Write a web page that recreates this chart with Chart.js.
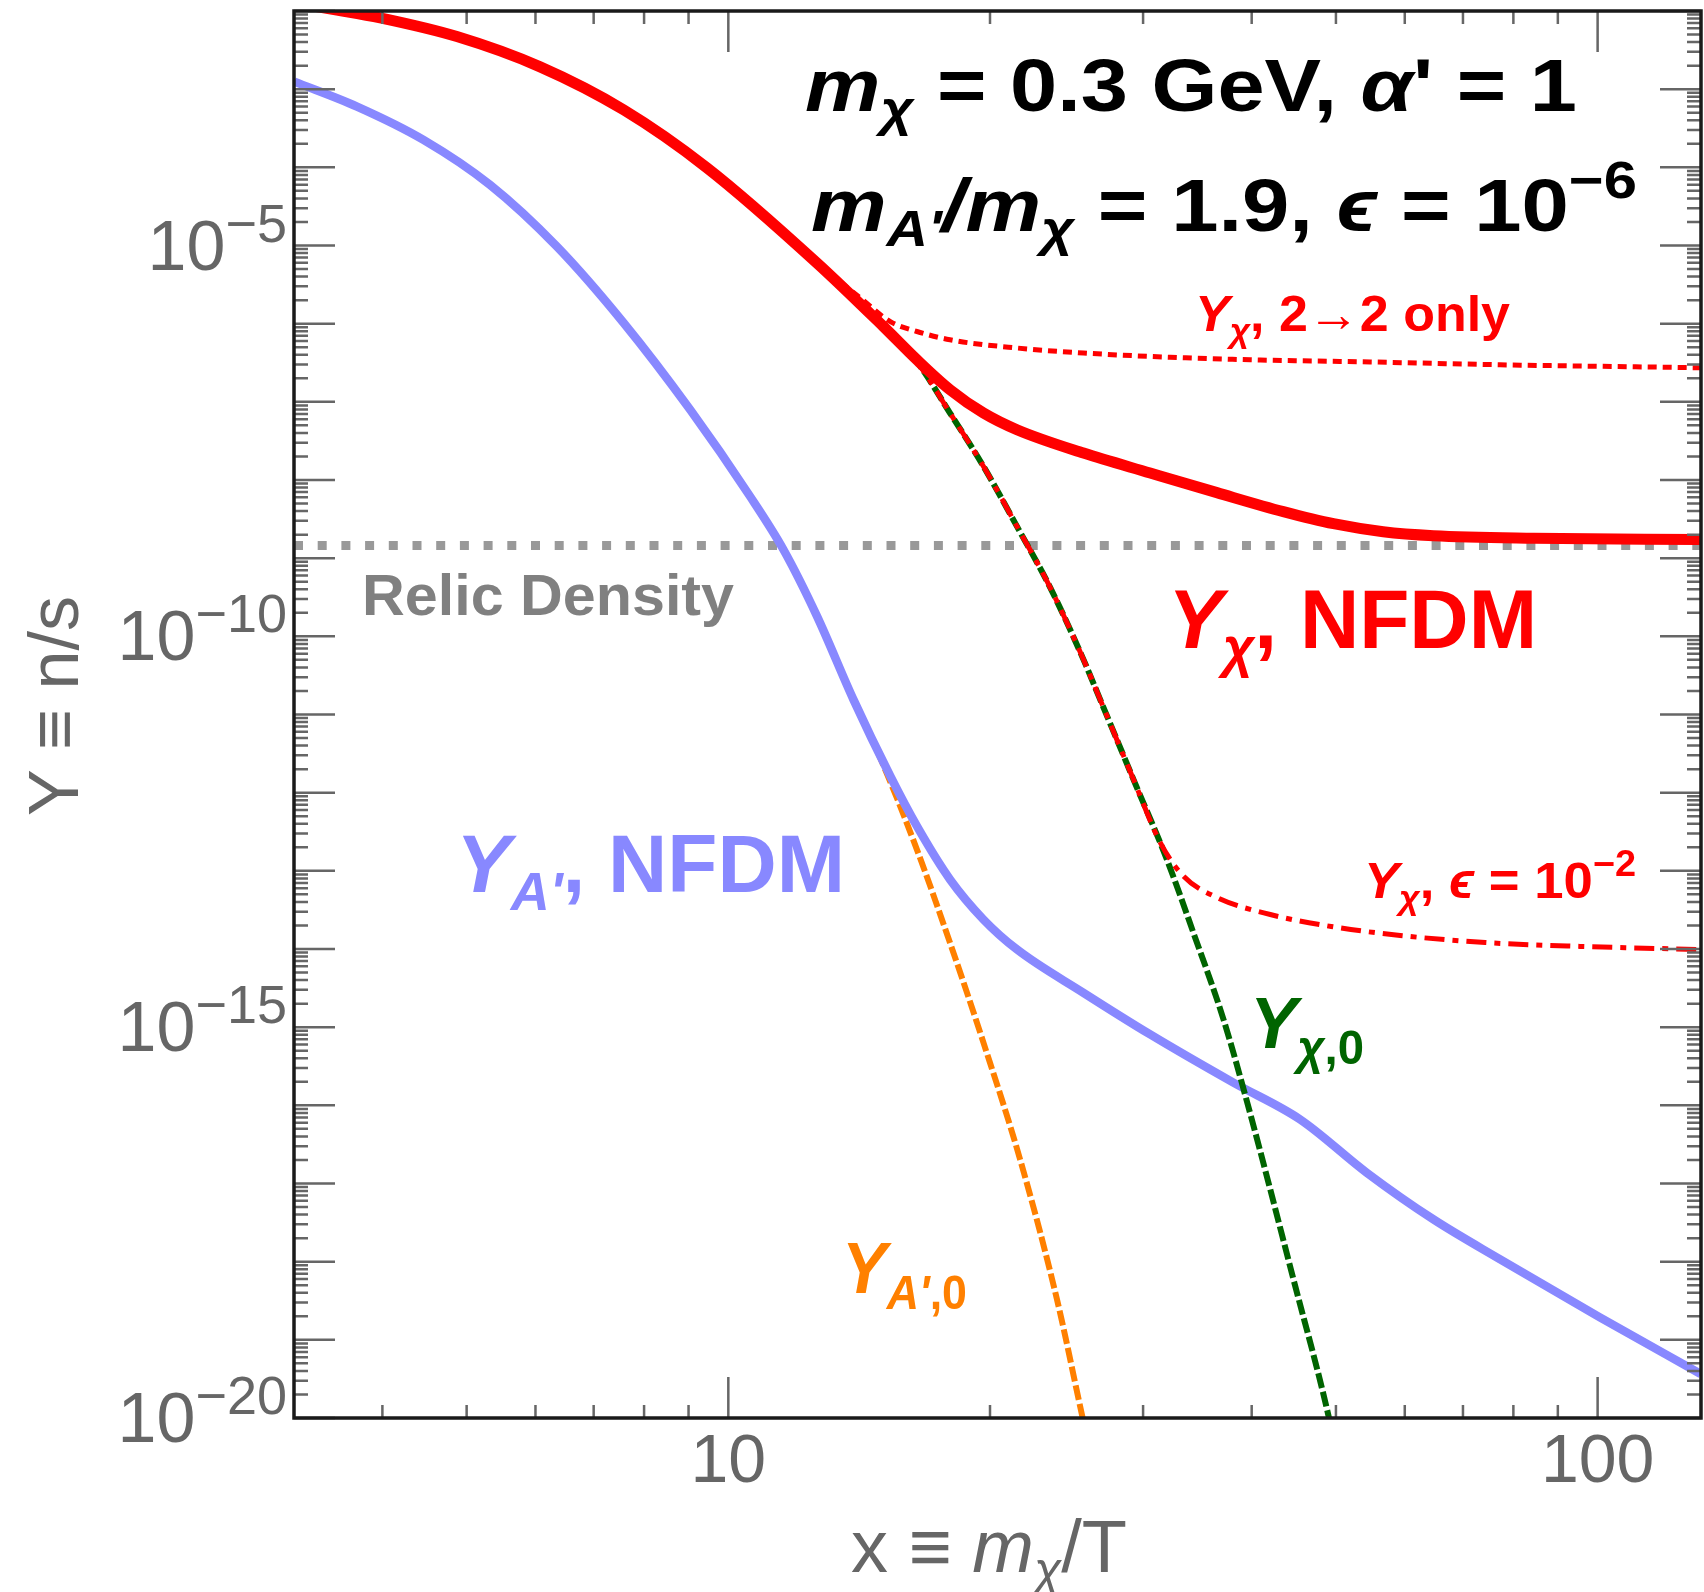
<!DOCTYPE html>
<html>
<head>
<meta charset="utf-8">
<script src="https://cdn.jsdelivr.net/npm/chart.js@4.4.1/dist/chart.umd.min.js"></script>
<style>
  html, body { margin: 0; padding: 0; background: #fff; }
  #wrap { width: 1704px; height: 1592px; }
</style>
</head>
<body>
<div id="wrap"><canvas id="chart" width="1704" height="1592"></canvas></div>
<script>
// Y_chi, NFDM (thick red)
const redX = [3.168, 3.546, 3.977, 4.873, 6.075, 7.58, 9.45, 12.65, 15.08, 16.48, 17.99, 19.66, 21.48, 25.62, 30.57, 36.48, 43.5, 49.68, 56.67, 64.74, 84.4, 131.2];
const redY = [1.27e-2, 1.03e-2, 8.17e-3, 4.71e-3, 1.93e-3, 5.43e-4, 9.86e-5, 5.96e-6, 9.2e-7, 3.45e-7, 1.43e-7, 7.19e-8, 4.4e-8, 2.21e-8, 1.23e-8, 6.89e-9, 3.94e-9, 2.76e-9, 2.18e-9, 1.94e-9, 1.8e-9, 1.73e-9];

// Y_A', NFDM (blue)
const blueX = [3.168, 3.74, 4.46, 5.32, 6.35, 7.58, 9.04, 10.6, 11.57, 12.65, 13.93, 15.36, 16.48, 17.99, 19.66, 21.48, 25.62, 30.57, 38.11, 45.48, 54.27, 64.74, 77.25, 100.6, 131.4];
const blueY = [1.25e-3, 6.0e-4, 2.25e-4, 5.97e-5, 9.7e-6, 1.02e-6, 7.9e-8, 6.1e-9, 1.29e-9, 1.8e-10, 1.55e-11, 1.62e-12, 3.72e-13, 7.75e-14, 2.38e-14, 9.86e-15, 2.75e-15, 8.07e-16, 1.95e-16, 6.6e-17, 1.37e-17, 3.47e-18, 1.07e-18, 1.94e-19, 3.66e-20];

// Y_A',0 equilibrium (orange dashed)
const orangeX = [13.93, 14.95, 16.48, 17.99, 19.66, 21.66, 23.88, 25.51, 25.74];
const orangeY = [1.55e-11, 2.81e-12, 1.87e-13, 1.2e-14, 6.3e-16, 2.03e-17, 3.3e-19, 1.11e-20, 7e-21];

// Y_chi,0 equilibrium (green dashed)
const greenX = [12.65, 15.08, 16.48, 17.99, 19.66, 21.48, 23.46, 25.62, 26.78, 29.25, 31.96, 34.28, 37.12, 39.5, 44.68, 49.03, 49.38];
const greenY = [5.96e-6, 9.2e-7, 3.26e-7, 7.19e-8, 1.49e-8, 2.55e-9, 4.2e-10, 5.04e-11, 1.55e-11, 1.47e-12, 1.39e-13, 1.61e-14, 1.26e-15, 1.12e-16, 5.94e-19, 1.06e-20, 7.2e-21];

// Y_chi, 2->2 only (red dotted)
const dotX = [12.65, 14.18, 15.36, 16.48, 17.99, 21.48, 25.62, 30.57, 39.85, 53.0, 77.25, 131.2];
const dotY = [5.96e-6, 2.14e-6, 1.06e-6, 7.94e-7, 6.22e-7, 4.88e-7, 4.21e-7, 3.81e-7, 3.45e-7, 3.26e-7, 2.98e-7, 2.73e-7];

// Y_chi, eps = 1e-2 (red dot-dashed)
const dashDotX = [15.08, 16.48, 17.99, 19.66, 21.48, 23.46, 25.62, 26.78, 29.25, 31.4, 33.39, 36.48, 42.02, 49.38, 59.28, 74.25, 95.4, 131.2];
const dashDotY = [9.2e-7, 3.26e-7, 7.19e-8, 1.49e-8, 2.55e-9, 4.2e-10, 5.04e-11, 1.55e-11, 1.47e-12, 2.3e-13, 8.53e-14, 4.56e-14, 2.76e-14, 1.94e-14, 1.49e-14, 1.21e-14, 1.08e-14, 9.86e-15];

// relic density line
const relicX = [3.165, 131.5];
const relicY = [1.45e-9, 1.45e-9];

// axis ticks
const xLabelTicks = [10, 100];
const yLabelPowers = [-5, -10, -15, -20];

const FONT = "'Liberation Sans', Arial, Helvetica, 'DejaVu Sans', sans-serif";

function pts(xs, ys) {
  return xs.map((x, i) => ({ x: x, y: ys[i] }));
}

function fontStr(r) {
  return (r.i ? "italic " : "") + (r.b ? "bold " : "") + r.s + "px " + FONT;
}

// draw a list of text runs (sub/superscripts via dy), optionally stretched to a width
function drawRuns(ctx, x, y, runs, color, align, width) {
  let w = 0;
  runs.forEach(r => { ctx.font = fontStr(r); w += ctx.measureText(r.t).width; });
  const sx = width ? width / w : 1;
  let left = x;
  if (align === "right") left = x - w * sx;
  if (align === "center") left = x - w * sx / 2;
  ctx.save();
  ctx.translate(left, y);
  ctx.scale(sx, 1);
  let cx = 0;
  runs.forEach(r => {
    ctx.font = fontStr(r);
    ctx.fillStyle = r.c || color;
    ctx.fillText(r.t, cx, r.dy || 0);
    cx += ctx.measureText(r.t).width;
  });
  ctx.restore();
}

const notes = [
  { x: 805, y: 111, w: 772, color: "#000", runs: [
    { t: "m", s: 74, b: 1, i: 1 }, { t: "χ", s: 50, b: 1, i: 1, dy: 15 },
    { t: " = 0.3 GeV, ", s: 74, b: 1 }, { t: "α", s: 74, b: 1, i: 1 }, { t: "' = 1", s: 74, b: 1 } ] },
  { x: 811, y: 231, w: 826, color: "#000", runs: [
    { t: "m", s: 74, b: 1, i: 1 }, { t: "A'", s: 50, b: 1, i: 1, dy: 15 }, { t: "/m", s: 74, b: 1, i: 1 },
    { t: "χ", s: 50, b: 1, i: 1, dy: 15 }, { t: " = 1.9, ", s: 74, b: 1 }, { t: "ϵ", s: 74, b: 1, i: 1 },
    { t: " = 10", s: 74, b: 1 }, { t: "−6", s: 52, b: 1, dy: -33 } ] },
  { x: 1195, y: 331, w: 315, color: "#ff0000", runs: [
    { t: "Y", s: 50, b: 1, i: 1 }, { t: "χ", s: 34, b: 1, i: 1, dy: 11 }, { t: ", 2→2 only", s: 50, b: 1 } ] },
  { x: 362, y: 615, w: 372, color: "#808080", runs: [ { t: "Relic Density", s: 57, b: 1 } ] },
  { x: 1168, y: 648, w: 369, color: "#ff0000", runs: [
    { t: "Y", s: 84, b: 1, i: 1 }, { t: "χ", s: 56, b: 1, i: 1, dy: 18 }, { t: ", NFDM", s: 84, b: 1 } ] },
  { x: 456, y: 892, w: 389, color: "#8888ff", runs: [
    { t: "Y", s: 82, b: 1, i: 1 }, { t: "A'", s: 54, b: 1, i: 1, dy: 18 }, { t: ", NFDM", s: 82, b: 1 } ] },
  { x: 1364, y: 898, w: 272, color: "#ff0000", runs: [
    { t: "Y", s: 50, b: 1, i: 1 }, { t: "χ", s: 34, b: 1, i: 1, dy: 11 }, { t: ", ", s: 50, b: 1 },
    { t: "ϵ", s: 50, b: 1, i: 1 }, { t: " = 10", s: 50, b: 1 }, { t: "−2", s: 36, b: 1, dy: -22 } ] },
  { x: 1250, y: 1048, w: 114, color: "#006400", runs: [
    { t: "Y", s: 72, b: 1, i: 1 }, { t: "χ", s: 48, b: 1, i: 1, dy: 16 }, { t: ",0", s: 48, b: 1, dy: 16 } ] },
  { x: 842, y: 1293, w: 125, color: "#ff8000", runs: [
    { t: "Y", s: 72, b: 1, i: 1 }, { t: "A'", s: 48, b: 1, i: 1, dy: 16 }, { t: ",0", s: 48, b: 1, dy: 16 } ] }
];

const framePlugin = {
  id: "frame",
  afterDatasetsDraw(chart) {
    const { ctx, chartArea: a, scales } = chart;
    const xs = scales.x, ys = scales.y;
    ctx.save();
    // ticks
    ctx.strokeStyle = "#666";
    ctx.lineWidth = 2.5;
    ctx.beginPath();
    for (let d = 1; d <= 100; d *= 10) {
      for (let k = 1; k <= 9; k++) {
        const v = k * d;
        if (v < xs.min || v > xs.max) continue;
        const px = xs.getPixelForValue(v);
        const len = k === 1 ? 41 : 13;
        ctx.moveTo(px, a.bottom); ctx.lineTo(px, a.bottom - len);
        ctx.moveTo(px, a.top); ctx.lineTo(px, a.top + len);
      }
    }
    for (let n = -20; n <= -2; n++) {
      for (let k = 1; k <= 9; k++) {
        const v = k * Math.pow(10, n);
        if (v < ys.min * 0.999 || v > ys.max * 1.001) continue;
        const py = ys.getPixelForValue(v);
        const len = k === 1 ? 41 : 14;
        ctx.moveTo(a.left, py); ctx.lineTo(a.left + len, py);
        ctx.moveTo(a.right, py); ctx.lineTo(a.right - len, py);
      }
    }
    ctx.stroke();
    // frame
    ctx.strokeStyle = "#1a1a1a";
    ctx.lineWidth = 3.5;
    ctx.strokeRect(a.left, a.top, a.right - a.left, a.bottom - a.top);
    ctx.restore();
  },
  afterDraw(chart) {
    const { ctx, chartArea: a, scales } = chart;
    ctx.save();
    ctx.textBaseline = "alphabetic";
    // x tick labels
    ctx.fillStyle = "#666";
    ctx.font = "68px " + FONT;
    ctx.textAlign = "center";
    xLabelTicks.forEach(v => {
      ctx.fillText(String(v), scales.x.getPixelForValue(v), a.bottom + 64);
    });
    ctx.textAlign = "left";
    // y tick labels
    yLabelPowers.forEach(p => {
      const py = scales.y.getPixelForValue(Math.pow(10, p));
      drawRuns(ctx, 287, py + 24, [
        { t: "10", s: 70 }, { t: "−" + Math.abs(p), s: 54, dy: -28 }
      ], "#666", "right");
    });
    // axis titles
    drawRuns(ctx, 989, 1572, [
      { t: "x ≡ ", s: 74 }, { t: "m", s: 74, i: 1 }, { t: "χ", s: 50, i: 1, dy: 15 }, { t: "/T", s: 74 }
    ], "#666", "center");
    ctx.save();
    ctx.translate(78, 706);
    ctx.rotate(-Math.PI / 2);
    drawRuns(ctx, 0, 0, [{ t: "Y ≡ n/s", s: 70 }], "#666", "center");
    ctx.restore();
    // annotations
    notes.forEach(n => drawRuns(ctx, n.x, n.y, n.runs, n.color, "left", n.w));
    ctx.restore();
  }
};

const line = (data, color, width, dash, extra) => Object.assign({
  data: data,
  borderColor: color,
  borderWidth: width,
  borderDash: dash,
  borderCapStyle: "butt",
  pointRadius: 0,
  fill: false,
  clip: 0,
  cubicInterpolationMode: "monotone"
}, extra || {});

new Chart(document.getElementById("chart"), {
  type: "line",
  data: {
    datasets: [
      line(pts(dotX, dotY), "#ff0000", 5, [9, 6]),
      line(pts(dashDotX, dashDotY), "#ff0000", 5, [20, 8, 6, 8]),
      line(pts(redX, redY), "#ff0000", 11, []),
      line(pts(greenX, greenY), "#006400", 6, [15, 4]),
      line(pts(blueX, blueY), "#8888ff", 8.5, []),
      line(pts(orangeX, orangeY), "#ff8000", 6, [15, 4]),
      line(pts(relicX, relicY), "#999999", 9, [9, 14.7], { cubicInterpolationMode: "default", tension: 0 })
    ]
  },
  options: {
    responsive: false,
    animation: false,
    layout: { padding: { left: 294, top: 11, right: 3, bottom: 174 } },
    plugins: { legend: { display: false }, tooltip: { enabled: false } },
    scales: {
      x: { type: "logarithmic", min: 3.165, max: 131.5, display: false },
      y: { type: "logarithmic", min: 1e-20, max: 1e-2, display: false }
    }
  },
  plugins: [framePlugin]
});
</script>
</body>
</html>
